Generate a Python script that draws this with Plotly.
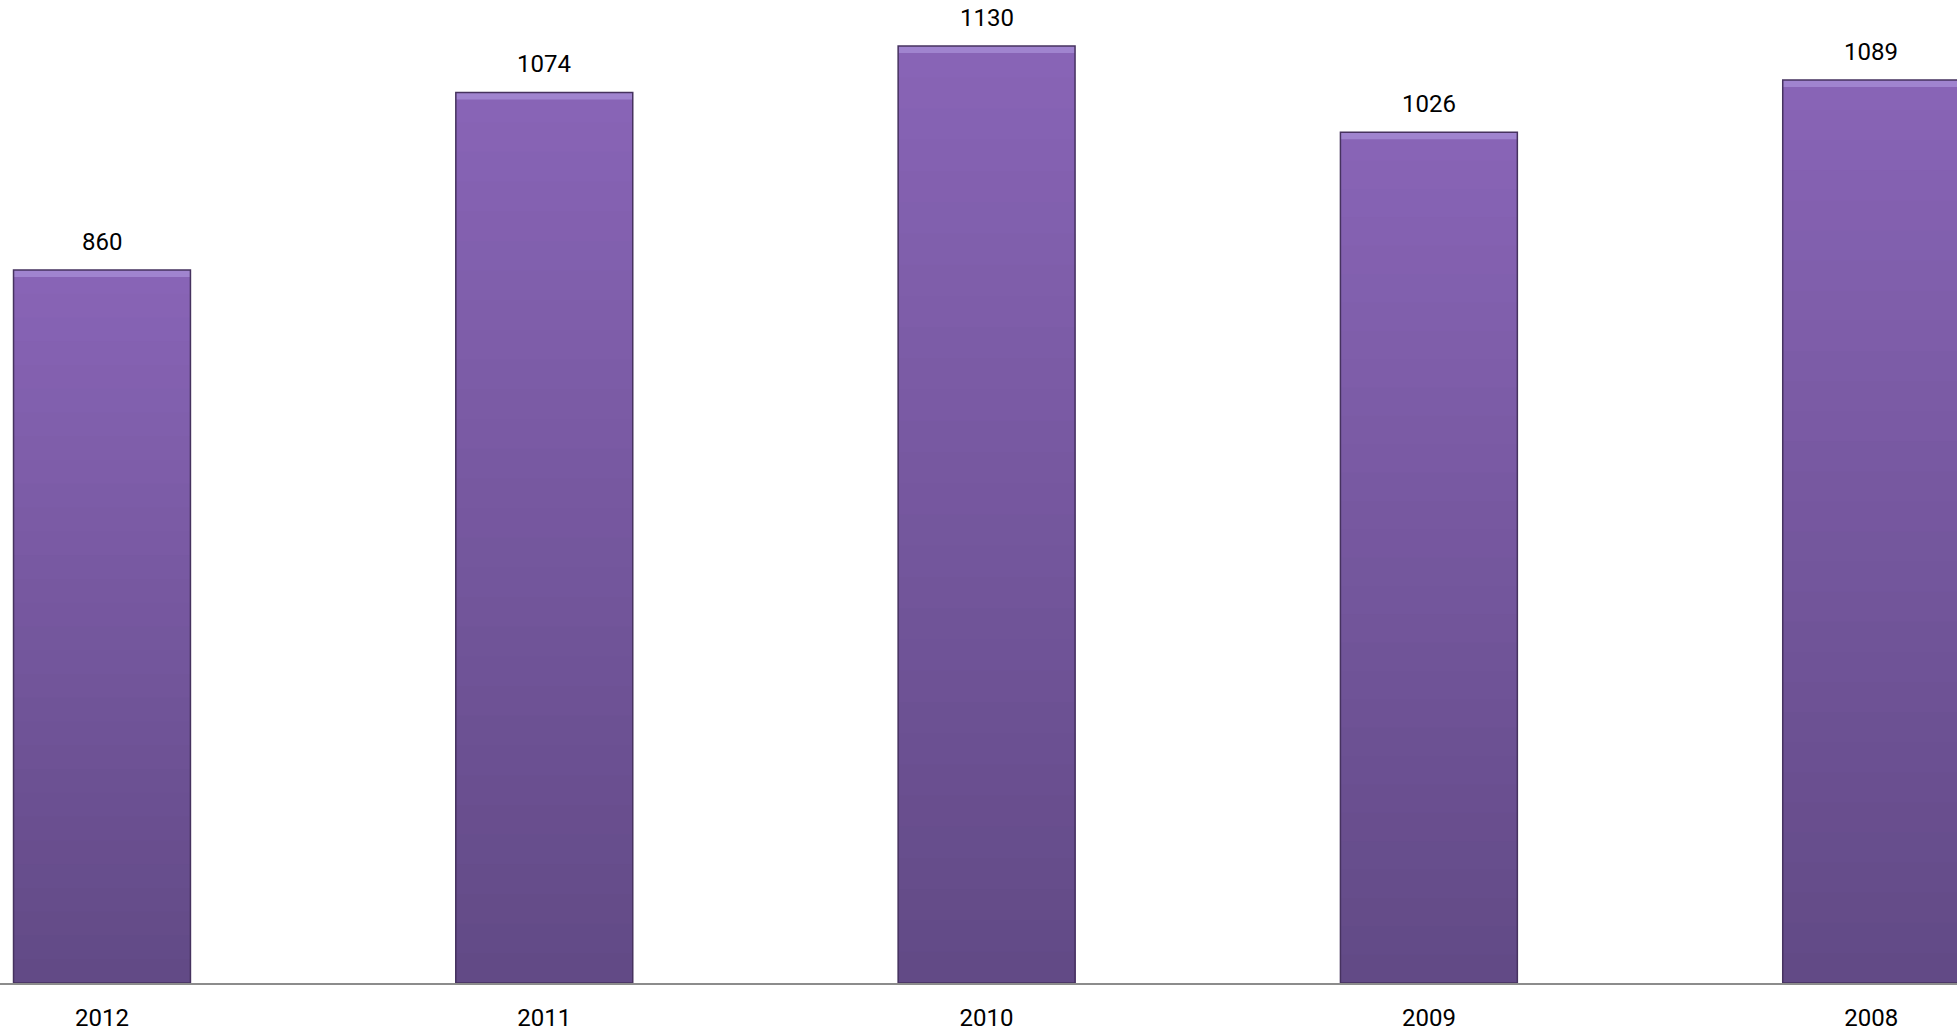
import plotly.graph_objects as go

# ---- data ----
years = ["2012", "2011", "2010", "2009", "2008"]
counts = [860, 1074, 1130, 1026, 1089]

# ---- styling ----
TOP_COLOR = (0x88, 0x64, 0xb6)
BOTTOM_COLOR = (0x62, 0x4a, 0x86)
BEVEL_COLOR = "#a084cf"
OUTLINE_COLOR = "#46325f"
N_STEPS = 30
BAR_WIDTH = 0.4

Y_TOP = 1185.5
px_per_unit = 983 / Y_TOP
bevel_units = 7 / px_per_unit

fig = go.Figure()

# vertical gradient built from overlaid bars of decreasing fraction of each value
for k in range(N_STEPS):
    f = 1 - k / N_STEPS
    t = k / (N_STEPS - 1)
    c = tuple(round(TOP_COLOR[i] + (BOTTOM_COLOR[i] - TOP_COLOR[i]) * t) for i in range(3))
    fig.add_trace(go.Bar(
        x=years, y=[v * f for v in counts], width=BAR_WIDTH,
        marker=dict(color="rgb(%d,%d,%d)" % c, line=dict(width=0)),
        hoverinfo="skip", showlegend=False,
    ))

# top bevel highlight
fig.add_trace(go.Bar(
    x=years, y=[bevel_units] * len(counts), base=[v - bevel_units for v in counts],
    width=BAR_WIDTH, marker=dict(color=BEVEL_COLOR, line=dict(width=0)),
    hoverinfo="skip", showlegend=False,
))

# outline
fig.add_trace(go.Bar(
    x=years, y=counts, width=BAR_WIDTH,
    marker=dict(color="rgba(0,0,0,0)", line=dict(color=OUTLINE_COLOR, width=1.5)),
    showlegend=False,
))

for i, v in enumerate(counts):
    fig.add_annotation(x=i, y=v, xref="x", yref="y", text=str(v), showarrow=False,
                       yshift=28, yanchor="middle",
                       font=dict(size=24, color="black", family="Roboto"))

fig.update_layout(
    barmode="overlay",
    width=1957, height=1034,
    margin=dict(l=0, r=0, t=0, b=51),
    paper_bgcolor="white", plot_bgcolor="white",
    font=dict(family="Roboto", size=24, color="black"),
    xaxis=dict(type="category", range=[-0.2306, 4.194], showline=True,
               linecolor="#8c8c8c", linewidth=2,
               showgrid=False, ticks="", tickfont=dict(size=24, color="black"),
               ticklabelstandoff=12, zeroline=False),
    yaxis=dict(range=[0, Y_TOP], visible=False, showgrid=False, zeroline=False),
)

fig.write_html("out.html", config={"displayModeBar": False},
               post_script="document.body.style.margin='0';document.body.style.overflow='hidden';")
